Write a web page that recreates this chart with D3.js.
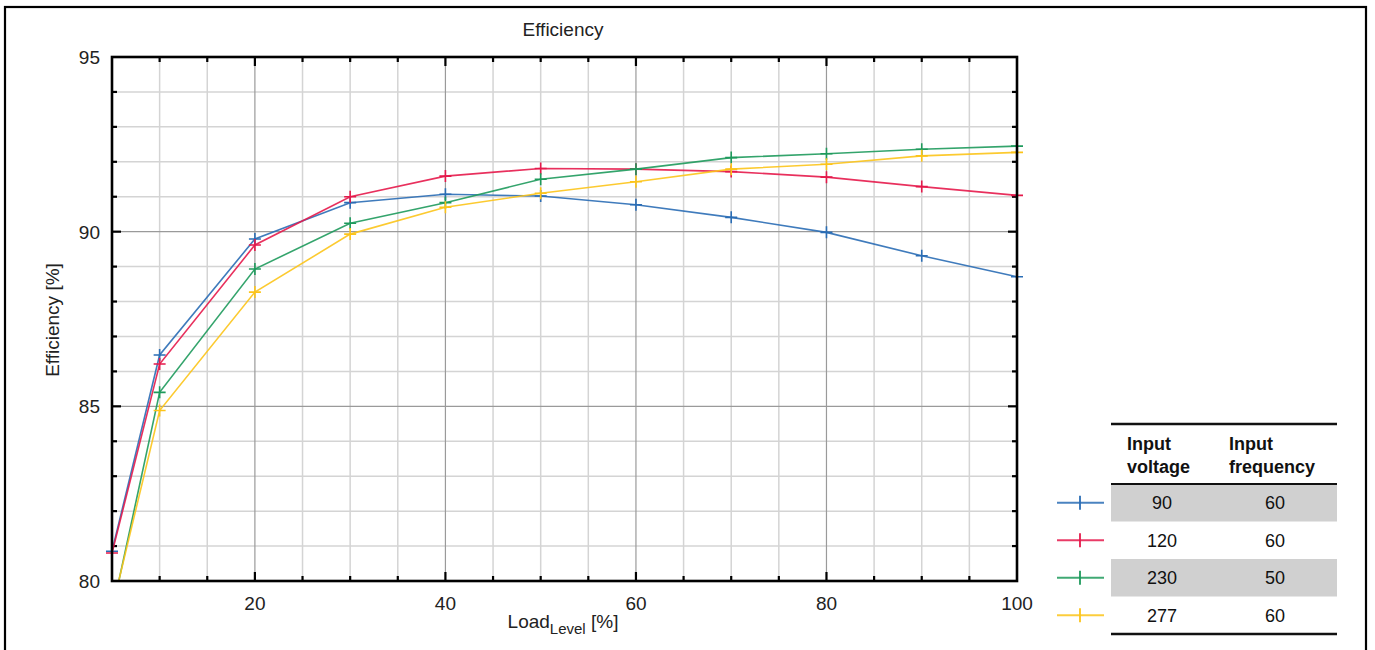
<!DOCTYPE html>
<html>
<head>
<meta charset="utf-8">
<script src="https://cdn.jsdelivr.net/npm/d3@7"></script>
<style>
  body { margin: 0; background: #fff; }
  svg { display: block; font-family: "Liberation Sans", Arial, sans-serif; }
</style>
</head>
<body>
<svg width="1375" height="650"></svg>
<script>
// data
const loadLevels = [5, 10, 20, 30, 40, 50, 60, 70, 80, 90, 100];
const eff90  = [80.85, 86.47, 89.79, 90.83, 91.07, 91.02, 90.77, 90.41, 89.98, 89.31, 88.71];
const eff120 = [80.80, 86.21, 89.62, 91.00, 91.59, 91.81, 91.79, 91.72, 91.56, 91.29, 91.04];
const eff230 = [79.10, 85.40, 88.93, 90.24, 90.83, 91.50, 91.79, 92.12, 92.23, 92.36, 92.45];
const eff277 = [79.20, 84.88, 88.27, 89.93, 90.70, 91.10, 91.43, 91.79, 91.93, 92.17, 92.27];
const voltages = ["90", "120", "230", "277"];
const frequencies = ["60", "60", "50", "60"];
const xTicks = [20, 40, 60, 80, 100];
const yTicks = [80, 85, 90, 95];

const colors = ["#2a6db5", "#e5194b", "#1e9a5c", "#fcc41a"];
const seriesValues = [eff90, eff120, eff230, eff277];

const svg = d3.select("svg");
const margin = {top: 57, left: 112};
const width = 1017 - 112, height = 581 - 57;

// outer frame
svg.append("rect")
  .attr("x", 5).attr("y", 7).attr("width", 1361).attr("height", 660)
  .attr("fill", "none").attr("stroke", "#000").attr("stroke-width", 2.2);

const scaleX = d3.scaleLinear().domain([5, 100]).range([0, width]);
const scaleY = d3.scaleLinear().domain([80, 95]).range([height, 0]);

const g = svg.append("g").attr("transform", "translate(" + margin.left + "," + margin.top + ")");

// grid: minor every 5 (x) / 1 (y), major at labelled ticks
const xMinor = d3.range(10, 100, 5).filter(v => xTicks.indexOf(v) < 0);
const yMinor = d3.range(81, 95, 1).filter(v => yTicks.indexOf(v) < 0);

g.selectAll(".gxm").data(xMinor).enter().append("line")
  .attr("x1", d => scaleX(d)).attr("x2", d => scaleX(d))
  .attr("y1", 0).attr("y2", height)
  .attr("stroke", "#d4d4d4").attr("stroke-width", 1.5);
g.selectAll(".gym").data(yMinor).enter().append("line")
  .attr("x1", 0).attr("x2", width)
  .attr("y1", d => scaleY(d)).attr("y2", d => scaleY(d))
  .attr("stroke", "#d4d4d4").attr("stroke-width", 1.5);
g.selectAll(".gxM").data(xTicks.slice(0, -1)).enter().append("line")
  .attr("x1", d => scaleX(d)).attr("x2", d => scaleX(d))
  .attr("y1", 0).attr("y2", height)
  .attr("stroke", "#9a9a9a").attr("stroke-width", 1.2);
g.selectAll(".gyM").data(yTicks.slice(1, -1)).enter().append("line")
  .attr("x1", 0).attr("x2", width)
  .attr("y1", d => scaleY(d)).attr("y2", d => scaleY(d))
  .attr("stroke", "#9a9a9a").attr("stroke-width", 1.2);

// inward ticks on all four sides
function ticks(vals, len) {
  vals.forEach(v => {
    const x = scaleX(v);
    g.append("line").attr("x1", x).attr("x2", x).attr("y1", height).attr("y2", height - len)
      .attr("stroke", "#000").attr("stroke-width", 2.2);
    g.append("line").attr("x1", x).attr("x2", x).attr("y1", 0).attr("y2", len)
      .attr("stroke", "#000").attr("stroke-width", 2.2);
  });
}
function yticks(vals, len) {
  vals.forEach(v => {
    const y = scaleY(v);
    g.append("line").attr("x1", 0).attr("x2", len).attr("y1", y).attr("y2", y)
      .attr("stroke", "#000").attr("stroke-width", 2.2);
    g.append("line").attr("x1", width).attr("x2", width - len).attr("y1", y).attr("y2", y)
      .attr("stroke", "#000").attr("stroke-width", 2.2);
  });
}
ticks(xMinor, 5);
ticks(xTicks.slice(0, -1), 9);
yticks(yMinor, 5);
yticks(yTicks.slice(1, -1), 9);

// series
const clip = svg.append("defs").append("clipPath").attr("id", "plotclip")
  .append("rect").attr("x", -10).attr("y", -10).attr("width", width + 20).attr("height", height + 10);

const line = d3.line().x((d, i) => scaleX(loadLevels[i])).y(d => scaleY(d));
const series = g.append("g").attr("clip-path", "url(#plotclip)");

seriesValues.forEach((vals, k) => {
  series.append("path")
    .datum(vals)
    .attr("d", line)
    .attr("fill", "none")
    .attr("stroke", colors[k])
    .attr("stroke-width", 1.6)
    .attr("stroke-opacity", 0.9);
  series.selectAll(".m" + k).data(vals).enter().append("path")
    .attr("d", (d, i) => {
      const x = scaleX(loadLevels[i]), y = scaleY(d);
      return "M" + (x - 6) + "," + y + "H" + (x + 6) + "M" + x + "," + (y - 6) + "V" + (y + 6);
    })
    .attr("stroke", colors[k]).attr("stroke-width", 1.6);
});

// frame of plot
g.append("rect").attr("width", width).attr("height", height)
  .attr("fill", "none").attr("stroke", "#000").attr("stroke-width", 2.6);

// tick labels
g.selectAll(".xl").data(xTicks).enter().append("text")
  .attr("x", d => scaleX(d)).attr("y", height + 29)
  .attr("text-anchor", "middle").attr("font-size", 19).attr("fill", "#222")
  .text(d => d);
g.selectAll(".yl").data(yTicks).enter().append("text")
  .attr("x", -12).attr("y", d => scaleY(d) + 7)
  .attr("text-anchor", "end").attr("font-size", 19).attr("fill", "#222")
  .text(d => d);

// title and axis labels
svg.append("text").attr("x", 563).attr("y", 36).attr("text-anchor", "middle")
  .attr("font-size", 19).attr("fill", "#222").text("Efficiency");

svg.append("text").attr("transform", "translate(59,320) rotate(-90)")
  .attr("text-anchor", "middle").attr("font-size", 19).attr("fill", "#222")
  .text("Efficiency [%]");

const xl = svg.append("text").attr("x", 563).attr("y", 628).attr("text-anchor", "middle")
  .attr("font-size", 19).attr("fill", "#222");
xl.append("tspan").text("Load");
xl.append("tspan").attr("font-size", 15).attr("dy", 6).text("Level");
xl.append("tspan").attr("dy", -6).text(" [%]");

// legend table
const tx1 = 1111, tx2 = 1337;
const rowTop = 484, rowH = 37.5;
const leg = svg.append("g");

voltages.forEach((v, i) => {
  const y0 = rowTop + i * rowH;
  if (i % 2 === 0) {
    leg.append("rect").attr("x", tx1).attr("y", y0).attr("width", tx2 - tx1).attr("height", rowH)
      .attr("fill", "#d0d0d0");
  }
  const cy = y0 + rowH / 2;
  leg.append("line").attr("x1", 1057).attr("x2", 1104).attr("y1", cy).attr("y2", cy)
    .attr("stroke", colors[i]).attr("stroke-width", 1.8).attr("stroke-opacity", 0.85);
  leg.append("line").attr("x1", 1080).attr("x2", 1080).attr("y1", cy - 7).attr("y2", cy + 7)
    .attr("stroke", colors[i]).attr("stroke-width", 1.8);
  leg.append("text").attr("x", 1162).attr("y", cy + 6.5).attr("text-anchor", "middle")
    .attr("font-size", 18).attr("fill", "#111").text(v);
  leg.append("text").attr("x", 1275).attr("y", cy + 6.5).attr("text-anchor", "middle")
    .attr("font-size", 18).attr("fill", "#111").text(frequencies[i]);
});

[424, 484, 634].forEach((y, i) => {
  leg.append("line").attr("x1", tx1).attr("x2", tx2).attr("y1", y).attr("y2", y)
    .attr("stroke", "#111").attr("stroke-width", i === 1 ? 2.2 : 2.5);
});

const hdr = [["Input", "voltage", 1127], ["Input", "frequency", 1229]];
hdr.forEach(h => {
  leg.append("text").attr("x", h[2]).attr("y", 450).attr("font-size", 18)
    .attr("font-weight", "bold").attr("fill", "#111").text(h[0]);
  leg.append("text").attr("x", h[2]).attr("y", 473).attr("font-size", 18)
    .attr("font-weight", "bold").attr("fill", "#111").text(h[1]);
});
</script>
</body>
</html>
